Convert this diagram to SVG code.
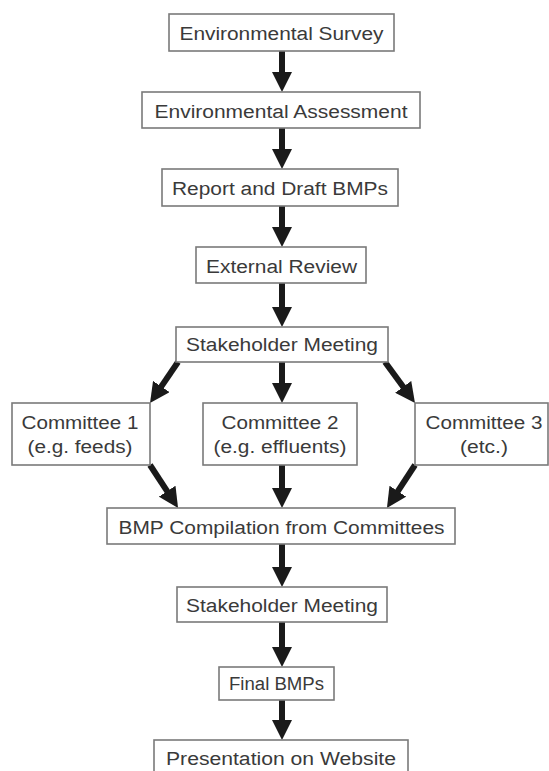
<svg xmlns="http://www.w3.org/2000/svg" width="549" height="771" viewBox="0 0 549 771">
<defs>
<marker id="ah" markerUnits="userSpaceOnUse" markerWidth="20" markerHeight="20" refX="8" refY="10" orient="auto" viewBox="0 0 20 20">
<path d="M0,0 L20,10 L0,20 z" fill="#1a1a1a"/>
</marker>
<style>
.box{fill:#fff;stroke:#7a7a7a;stroke-width:1.6}
.t{font-family:"Liberation Sans",Arial,sans-serif;font-size:18px;fill:#3a3a3a;text-anchor:middle}
.c line{stroke:#1a1a1a;stroke-width:6;marker-end:url(#ah)}
</style>
</defs>
<rect width="549" height="771" fill="#fff"/>
<g class="c" id="connectors">
<line x1="282" y1="51" x2="282" y2="80"/>
<line x1="282" y1="128" x2="282" y2="157"/>
<line x1="282" y1="206" x2="282" y2="235"/>
<line x1="282" y1="283" x2="282" y2="315"/>
<line x1="282" y1="362" x2="282" y2="391"/>
<line x1="178" y1="362" x2="156.8" y2="393.1"/>
<line x1="385" y1="362" x2="407.9" y2="393.3"/>
<line x1="282" y1="465" x2="282" y2="496"/>
<line x1="150" y1="465" x2="171.5" y2="497.9"/>
<line x1="415" y1="465" x2="393.5" y2="497.9"/>
<line x1="282" y1="544" x2="282" y2="575"/>
<line x1="282" y1="622" x2="282" y2="655"/>
<line x1="282" y1="700" x2="282" y2="728"/>
</g>
<g id="n1"><rect class="box" x="169" y="14" width="225" height="37"/><text class="t" x="281.5" y="40" textLength="204" lengthAdjust="spacingAndGlyphs">Environmental Survey</text></g>
<g id="n2"><rect class="box" x="142" y="92" width="278" height="36"/><text class="t" x="281" y="118" textLength="253" lengthAdjust="spacingAndGlyphs">Environmental Assessment</text></g>
<g id="n3"><rect class="box" x="162" y="169" width="236" height="37"/><text class="t" x="280" y="195" textLength="216" lengthAdjust="spacingAndGlyphs">Report and Draft BMPs</text></g>
<g id="n4"><rect class="box" x="196" y="247" width="170" height="36"/><text class="t" x="281.5" y="273" textLength="151" lengthAdjust="spacingAndGlyphs">External Review</text></g>
<g id="n5"><rect class="box" x="176" y="327" width="212" height="35"/><text class="t" x="282" y="351" textLength="192" lengthAdjust="spacingAndGlyphs">Stakeholder Meeting</text></g>
<g id="n6"><rect class="box" x="12" y="403" width="138" height="62"/><text class="t" x="80" y="429" textLength="117" lengthAdjust="spacingAndGlyphs">Committee 1</text><text class="t" x="80" y="453" textLength="105" lengthAdjust="spacingAndGlyphs">(e.g. feeds)</text></g>
<g id="n7"><rect class="box" x="203" y="403" width="154" height="62"/><text class="t" x="280" y="429" textLength="117" lengthAdjust="spacingAndGlyphs">Committee 2</text><text class="t" x="280" y="453" textLength="133" lengthAdjust="spacingAndGlyphs">(e.g. effluents)</text></g>
<g id="n8"><rect class="box" x="415" y="403" width="133" height="62"/><text class="t" x="484" y="429" textLength="117" lengthAdjust="spacingAndGlyphs">Committee 3</text><text class="t" x="484" y="453" textLength="48" lengthAdjust="spacingAndGlyphs">(etc.)</text></g>
<g id="n9"><rect class="box" x="107" y="508" width="348" height="36"/><text class="t" x="281.5" y="534" textLength="326" lengthAdjust="spacingAndGlyphs">BMP Compilation from Committees</text></g>
<g id="n10"><rect class="box" x="177" y="587" width="210" height="35"/><text class="t" x="282" y="612" textLength="192" lengthAdjust="spacingAndGlyphs">Stakeholder Meeting</text></g>
<g id="n11"><rect class="box" x="219" y="667" width="115" height="33"/><text class="t" x="276.5" y="690" textLength="95" lengthAdjust="spacingAndGlyphs">Final BMPs</text></g>
<g id="n12"><rect class="box" x="154" y="740" width="254" height="40"/><text class="t" x="281" y="765" textLength="230" lengthAdjust="spacingAndGlyphs">Presentation on Website</text></g>
</svg>
